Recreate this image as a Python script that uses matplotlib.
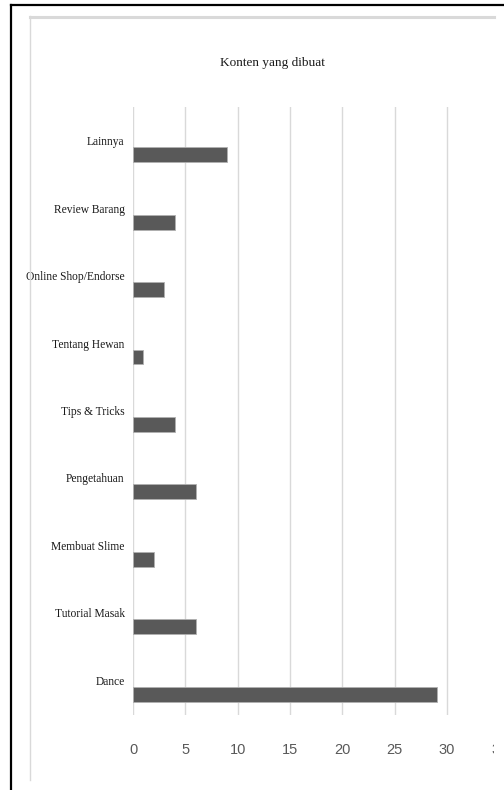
import matplotlib
matplotlib.use("Agg")
import matplotlib.pyplot as plt
from matplotlib import font_manager
from matplotlib.lines import Line2D
from matplotlib.patches import Rectangle

categories = ["Dance", "Tutorial Masak", "Membuat Slime", "Pengetahuan", "Tips & Tricks",
              "Tentang Hewan", "Online Shop/Endorse", "Review Barang", "Lainnya"]
values = [29, 6, 2, 6, 4, 1, 3, 4, 9]
x_ticks = [0, 5, 10, 15, 20, 25, 30, 35]
title = "Konten yang dibuat"


def pick_font(names, default):
    for name in names:
        try:
            font_manager.findfont(font_manager.FontProperties(family=name), fallback_to_default=False)
            return name
        except ValueError:
            pass
    return default


serif = pick_font(["Liberation Serif"], "DejaVu Serif")
narrow = pick_font(["Liberation Sans Narrow", "Liberation Sans"], "DejaVu Sans")

W, H = 504, 790
fig = plt.figure(figsize=(W / 100, H / 100), dpi=100)
ax = fig.add_axes([133 / W, 1 - 715 / H, 366.5 / W, 608 / H])

y = list(range(len(categories)))
ax.barh(y, values, height=0.22, color="#595959", edgecolor="#b0b0b0", linewidth=0.6, zorder=3)

ax.set_xlim(0, 35)
ax.set_ylim(-0.31, 8.71)
ax.set_xticks(x_ticks)
ax.set_yticks([])
ax.grid(axis="x", color="#d9d9d9", linewidth=1.0, zorder=0)
for s in ax.spines.values():
    s.set_visible(False)
ax.tick_params(axis="x", length=0, pad=20, labelsize=10.5, labelcolor="#595959")
for lbl in ax.get_xticklabels():
    lbl.set_family(narrow)

# category labels sit a little above their bars
for yi, name in zip(y, categories):
    ax.annotate(name, xy=(0, yi), xytext=(-6, 9), textcoords="offset points",
                ha="right", va="center", fontsize=8.3, family=serif, color="#1a1a1a")

fig.text(272 / W, 1 - 63 / H, title, ha="center", va="center", fontsize=9.5, family=serif, color="#1a1a1a")

# cropped right edge and frames
fig.add_artist(Rectangle((494 / W, 0), 10 / W, 1, transform=fig.transFigure,
                         facecolor="white", edgecolor="none", zorder=10))
fig.add_artist(Line2D([30 / W, 494 / W], [1 - 16.5 / H, 1 - 16.5 / H], transform=fig.transFigure,
                      color="#d9d9d9", linewidth=2.2, zorder=11))
fig.add_artist(Line2D([30 / W, 30 / W], [1 - 16 / H, 1 - 780 / H], transform=fig.transFigure,
                      color="#d9d9d9", linewidth=1.0, zorder=11))
fig.add_artist(Line2D([10.5 / W, 1], [1 - 5 / H, 1 - 5 / H], transform=fig.transFigure,
                      color="black", linewidth=1.6, zorder=12))
fig.add_artist(Line2D([10.5 / W, 10.5 / W], [1 - 5 / H, 0], transform=fig.transFigure,
                      color="black", linewidth=1.6, zorder=12))

fig.savefig("out.png", dpi=100)
